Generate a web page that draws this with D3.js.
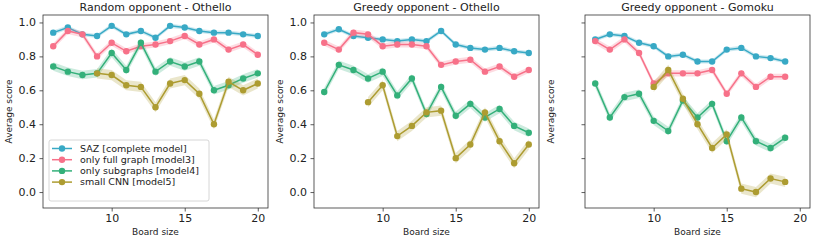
<!DOCTYPE html>
<html>
<head>
<meta charset="utf-8">
<script src="https://cdn.jsdelivr.net/npm/d3@7"></script>
<style>
  body { margin: 0; background: #fff; }
  text { font-family: "DejaVu Sans", sans-serif; fill: #222; }
</style>
</head>
<body>
<svg id="chart"></svg>
<script>
var boardSizes = d3.range(6, 21);
var gomokuSizes = d3.range(6, 20);

var seriesNames = ["SAZ [complete model]", "only full graph [model3]", "only subgraphs [model4]", "small CNN [model5]"];
var colors = ["#38a9c5", "#f77189", "#33b07a", "#ad9c31"];

// random opponent - othello (sizes 6..20), small CNN from 9
var randSaz   = [0.94, 0.97, 0.93, 0.92, 0.98, 0.93, 0.95, 0.91, 0.98, 0.97, 0.95, 0.94, 0.94, 0.93, 0.92];
var randFull  = [0.86, 0.95, 0.93, 0.80, 0.88, 0.83, 0.86, 0.87, 0.89, 0.92, 0.87, 0.90, 0.84, 0.87, 0.81];
var randSub   = [0.74, 0.71, 0.69, 0.70, 0.82, 0.72, 0.88, 0.71, 0.77, 0.74, 0.77, 0.60, 0.63, 0.67, 0.70];
var randCnn   = [null, null, null, 0.70, 0.69, 0.63, 0.62, 0.50, 0.64, 0.66, 0.58, 0.40, 0.65, 0.60, 0.64];

// greedy opponent - othello
var greedySaz  = [0.93, 0.96, 0.92, 0.91, 0.90, 0.89, 0.90, 0.89, 0.95, 0.87, 0.85, 0.84, 0.85, 0.83, 0.82];
var greedyFull = [0.88, 0.84, 0.94, 0.93, 0.86, 0.87, 0.87, 0.86, 0.75, 0.77, 0.78, 0.71, 0.74, 0.68, 0.72];
var greedySub  = [0.59, 0.75, 0.72, 0.67, 0.71, 0.57, 0.67, 0.46, 0.62, 0.45, 0.52, 0.44, 0.49, 0.39, 0.35];
var greedyCnn  = [null, null, null, 0.53, 0.63, 0.33, 0.39, 0.47, 0.48, 0.20, 0.28, 0.47, 0.30, 0.17, 0.28];

// greedy opponent - gomoku (sizes 6..19), small CNN from 10
var gomokuSaz  = [0.90, 0.93, 0.92, 0.88, 0.86, 0.80, 0.81, 0.77, 0.77, 0.84, 0.85, 0.80, 0.79, 0.77];
var gomokuFull = [0.89, 0.84, 0.90, 0.82, 0.64, 0.70, 0.70, 0.70, 0.72, 0.58, 0.70, 0.62, 0.68, 0.68];
var gomokuSub  = [0.64, 0.44, 0.56, 0.58, 0.42, 0.36, 0.54, 0.44, 0.52, 0.30, 0.44, 0.30, 0.26, 0.32];
var gomokuCnn  = [null, null, null, null, 0.62, 0.72, 0.55, 0.40, 0.26, 0.34, 0.02, 0.00, 0.08, 0.06];

// half width of the shaded confidence band, per series
var bandWidth = [0.012, 0.018, 0.025, 0.03];

var yTicks = [0.0, 0.2, 0.4, 0.6, 0.8, 1.0];
var xTicks = [10, 15, 20];

var panels = [
  {title: "Random opponent - Othello", sizes: boardSizes, series: [randSaz, randFull, randSub, randCnn], left: 43, yLabels: true, legend: true},
  {title: "Greedy opponent - Othello", sizes: boardSizes, series: [greedySaz, greedyFull, greedySub, greedyCnn], left: 314, yLabels: true, legend: false},
  {title: "Greedy opponent - Gomoku", sizes: gomokuSizes, series: [gomokuSaz, gomokuFull, gomokuSub, gomokuCnn], left: 585, yLabels: false, legend: false}
];

var width = 225;
var height = 193;
var marginTop = 15;

var svg = d3.select("#chart")
    .attr("width", 814)
    .attr("height", 240);

var y = d3.scaleLinear()
    .domain([-0.094, 1.044])
    .range([height, 0]);

var x = d3.scaleLinear()
    .domain([5.3, 20.7])
    .range([0, width]);

panels.forEach(function (p) {
    var g = svg.append("g")
        .attr("transform", "translate(" + [p.left, marginTop] + ")");

    p.series.forEach(function (vals, si) {
        var pts = p.sizes.map(function (s, i) { return {x: s, y: vals[i]}; })
            .filter(function (d) { return d.y !== null; });
        var w = bandWidth[si];

        var area = d3.area()
            .x(function (d) { return x(d.x); })
            .y0(function (d) { return y(d.y - w); })
            .y1(function (d) { return y(d.y + w); });
        g.append("path")
            .datum(pts)
            .attr("d", area)
            .attr("fill", colors[si])
            .attr("fill-opacity", 0.25);

        var line = d3.line()
            .x(function (d) { return x(d.x); })
            .y(function (d) { return y(d.y); });
        g.append("path")
            .datum(pts)
            .attr("d", line)
            .attr("fill", "none")
            .attr("stroke", colors[si])
            .attr("stroke-width", 1.5);

        g.selectAll(".pt" + si)
            .data(pts)
            .enter()
            .append("circle")
            .attr("cx", function (d) { return x(d.x); })
            .attr("cy", function (d) { return y(d.y); })
            .attr("r", 3.2)
            .attr("fill", colors[si]);
    });

    // frame
    g.append("rect")
        .attr("width", width)
        .attr("height", height)
        .attr("fill", "none")
        .attr("stroke", "#333")
        .attr("stroke-width", 0.8);

    var yAxis = d3.axisLeft(y)
        .tickValues(yTicks)
        .tickSize(3.5)
        .tickPadding(3.5)
        .tickFormat(p.yLabels ? d3.format(".1f") : "");
    var ya = g.append("g").call(yAxis);
    ya.select(".domain").remove();
    ya.selectAll("line").attr("stroke", "#333").attr("stroke-width", 0.8);
    ya.selectAll("text").style("font-size", "11px").attr("fill", "#222");

    var xAxis = d3.axisBottom(x)
        .tickValues(xTicks)
        .tickSize(3.5)
        .tickPadding(3);
    var xa = g.append("g")
        .attr("transform", "translate(0," + height + ")")
        .call(xAxis);
    xa.select(".domain").remove();
    xa.selectAll("line").attr("stroke", "#333").attr("stroke-width", 0.8);
    xa.selectAll("text").style("font-size", "11px").attr("fill", "#222");

    g.append("text")
        .text(p.title)
        .attr("x", width / 2)
        .attr("y", -4)
        .attr("text-anchor", "middle")
        .style("font-size", "11px");

    g.append("text")
        .text("Board size")
        .attr("x", width / 2)
        .attr("y", height + 27)
        .attr("text-anchor", "middle")
        .style("font-size", "9px");

    g.append("text")
        .text("Average score")
        .attr("transform", "translate(-31," + (height / 2) + ") rotate(-90)")
        .attr("text-anchor", "middle")
        .style("font-size", "9px");

    if (p.legend) {
        var lg = g.append("g").attr("transform", "translate(6,125)");
        lg.append("rect")
            .attr("width", 160)
            .attr("height", 61)
            .attr("rx", 2)
            .attr("fill", "#fff")
            .attr("fill-opacity", 0.8)
            .attr("stroke", "#ccc")
            .attr("stroke-width", 0.8);
        seriesNames.forEach(function (name, i) {
            var row = lg.append("g").attr("transform", "translate(0," + (8.5 + i * 11.2) + ")");
            row.append("line")
                .attr("x1", 3).attr("x2", 23)
                .attr("stroke", colors[i])
                .attr("stroke-width", 1.5);
            row.append("circle")
                .attr("cx", 13)
                .attr("r", 3.2)
                .attr("fill", colors[i]);
            row.append("text")
                .text(name)
                .attr("x", 31)
                .attr("dy", "0.35em")
                .style("font-size", "9.5px");
        });
    }
});
</script>
</body>
</html>
